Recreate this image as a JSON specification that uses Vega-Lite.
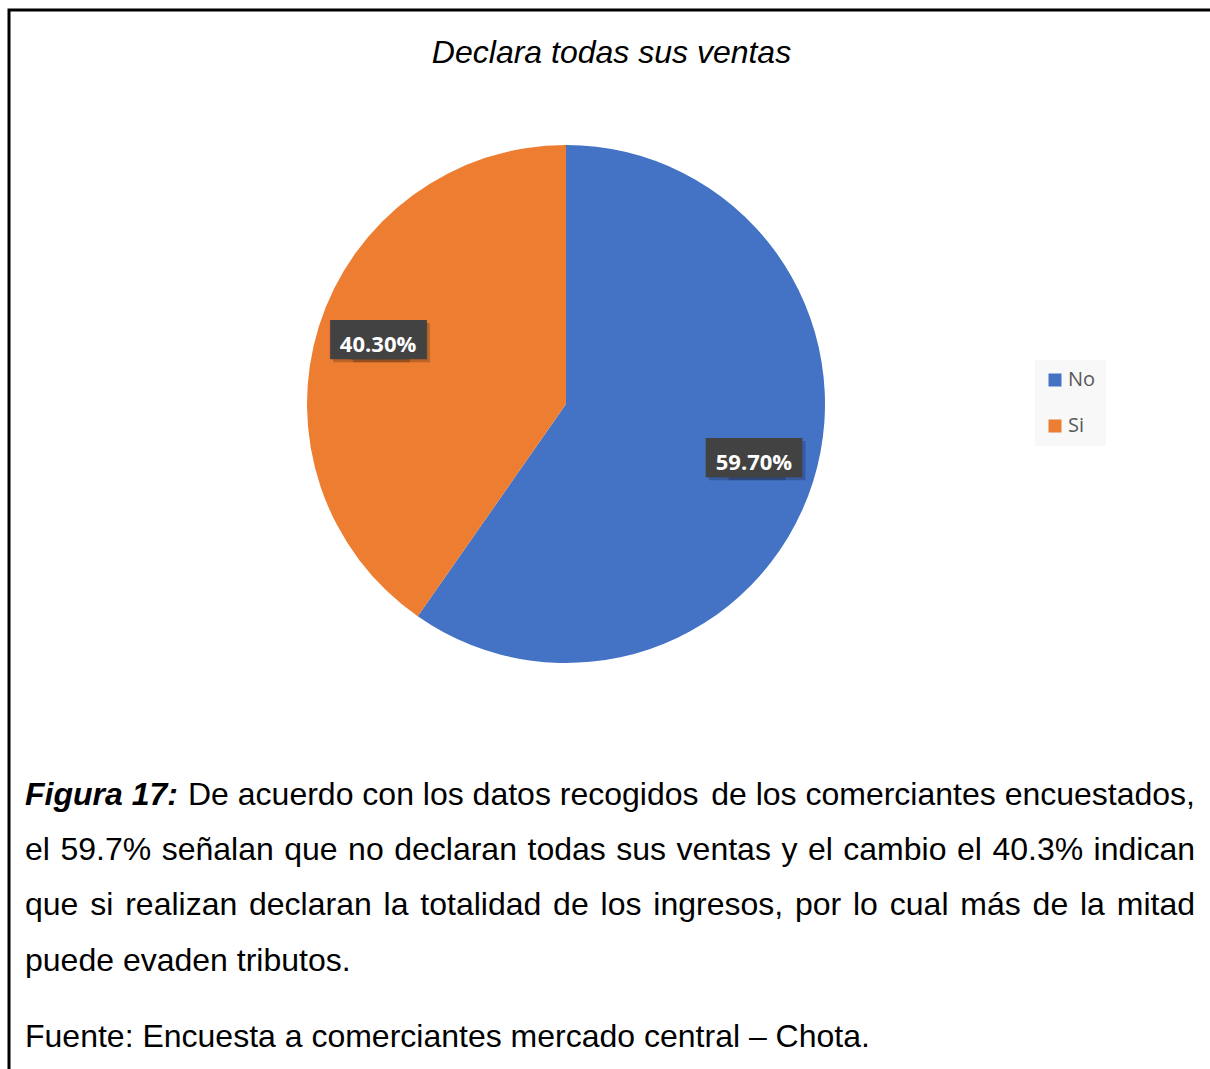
{
  "$schema": "https://vega.github.io/schema/vega-lite/v6.json",
  "width": 1205,
  "height": 1065,
  "autosize": {"type": "none"},
  "padding": {"left": 9, "top": 10, "right": 0, "bottom": 0},
  "background": "white",
  "config": {
    "view": {"stroke": "#000000", "strokeWidth": 3},
    "font": "Liberation Sans",
    "text": {"font": "Liberation Sans", "fontSize": 32, "align": "left", "baseline": "alphabetic", "color": "#000000"}
  },
  "title": {
    "text": "Declara todas sus ventas",
    "orient": "top",
    "anchor": "middle",
    "frame": "group",
    "offset": -60,
    "font": "Liberation Sans",
    "fontSize": 32,
    "fontStyle": "italic",
    "fontWeight": "normal",
    "color": "#000000"
  },
  "data": {"values": [{}]},
  "layer": [
    {
      "data": {"values": [
        {"respuesta": "No", "proporcion": 0.597},
        {"respuesta": "Si", "proporcion": 0.403}
      ]},
      "encoding": {
        "x": {"value": 557},
        "y": {"value": 394},
        "theta": {"field": "proporcion", "type": "quantitative", "stack": true},
        "order": {"field": "respuesta", "type": "nominal", "sort": "ascending"}
      },
      "layer": [
        {
          "mark": {"type": "arc", "outerRadius": 259},
          "encoding": {
            "color": {
              "field": "respuesta",
              "type": "nominal",
              "scale": {"domain": ["No", "Si"], "range": ["#4472C4", "#ED7D31"]},
              "legend": {
                "title": null,
                "orient": "none",
                "legendX": 1026,
                "legendY": 350,
                "fillColor": "#f8f8f8",
                "padding": 10,
                "symbolType": "square",
                "symbolSize": 169,
                "symbolStrokeWidth": 0,
                "labelFont": "Open Sans",
                "labelFontSize": 20,
                "labelColor": "#595959",
                "labelOffset": 3,
                "rowPadding": 26
              }
            }
          }
        },
        {
          "mark": {"type": "text", "radius": 197, "text": "███", "font": "DejaVu Sans", "fontSize": 33, "color": "#000000", "opacity": 0.2, "align": "right", "baseline": "middle", "dx": 51, "dy": -1},
          "encoding": {"detail": {"field": "respuesta"}}
        },
        {
          "mark": {"type": "text", "radius": 197, "text": "███", "font": "DejaVu Sans", "fontSize": 33, "color": "#000000", "opacity": 0.2, "align": "left", "baseline": "middle", "dx": -45, "dy": -1},
          "encoding": {"detail": {"field": "respuesta"}}
        },
        {
          "mark": {"type": "text", "radius": 197, "text": "███", "font": "DejaVu Sans", "fontSize": 33, "color": "#424242", "align": "right", "baseline": "middle", "dx": 48, "dy": -4},
          "encoding": {"detail": {"field": "respuesta"}}
        },
        {
          "mark": {"type": "text", "radius": 197, "text": "███", "font": "DejaVu Sans", "fontSize": 33, "color": "#424242", "align": "left", "baseline": "middle", "dx": -48, "dy": -4},
          "encoding": {"detail": {"field": "respuesta"}}
        },
        {
          "mark": {"type": "text", "radius": 197, "font": "Open Sans", "fontWeight": "bold", "fontSize": 22, "color": "#ffffff", "align": "center", "baseline": "middle"},
          "encoding": {
            "detail": {"field": "respuesta"},
            "text": {"field": "proporcion", "type": "quantitative", "format": ".2%"}
          }
        }
      ]
    },
    {"mark": {"type": "text", "text": "Figura 17:", "fontWeight": "bold", "fontStyle": "italic"}, "encoding": {"x": {"value": 16}, "y": {"value": 795}}},
    {"mark": {"type": "text", "text": "De acuerdo con los datos recogidos"}, "encoding": {"x": {"value": 179}, "y": {"value": 795}}},
    {"mark": {"type": "text", "text": "de los comerciantes encuestados,", "align": "right"}, "encoding": {"x": {"value": 1186}, "y": {"value": 795}}},

    {"mark": {"type": "text", "text": "el"}, "encoding": {"x": {"value": 16}, "y": {"value": 850}}},
    {"mark": {"type": "text", "text": "59.7%"}, "encoding": {"x": {"value": 51.4}, "y": {"value": 850}}},
    {"mark": {"type": "text", "text": "señalan"}, "encoding": {"x": {"value": 152.7}, "y": {"value": 850}}},
    {"mark": {"type": "text", "text": "que"}, "encoding": {"x": {"value": 275.2}, "y": {"value": 850}}},
    {"mark": {"type": "text", "text": "no"}, "encoding": {"x": {"value": 339.1}, "y": {"value": 850}}},
    {"mark": {"type": "text", "text": "declaran"}, "encoding": {"x": {"value": 385.2}, "y": {"value": 850}}},
    {"mark": {"type": "text", "text": "todas"}, "encoding": {"x": {"value": 518.5}, "y": {"value": 850}}},
    {"mark": {"type": "text", "text": "sus"}, "encoding": {"x": {"value": 607.3}, "y": {"value": 850}}},
    {"mark": {"type": "text", "text": "ventas"}, "encoding": {"x": {"value": 667.6}, "y": {"value": 850}}},
    {"mark": {"type": "text", "text": "y"}, "encoding": {"x": {"value": 772.4}, "y": {"value": 850}}},
    {"mark": {"type": "text", "text": "el"}, "encoding": {"x": {"value": 798.9}, "y": {"value": 850}}},
    {"mark": {"type": "text", "text": "cambio"}, "encoding": {"x": {"value": 834.3}, "y": {"value": 850}}},
    {"mark": {"type": "text", "text": "el"}, "encoding": {"x": {"value": 948.0}, "y": {"value": 850}}},
    {"mark": {"type": "text", "text": "40.3%"}, "encoding": {"x": {"value": 983.4}, "y": {"value": 850}}},
    {"mark": {"type": "text", "text": "indican"}, "encoding": {"x": {"value": 1084.6}, "y": {"value": 850}}},

    {"mark": {"type": "text", "text": "que"}, "encoding": {"x": {"value": 16}, "y": {"value": 905}}},
    {"mark": {"type": "text", "text": "si"}, "encoding": {"x": {"value": 81.2}, "y": {"value": 905}}},
    {"mark": {"type": "text", "text": "realizan"}, "encoding": {"x": {"value": 116.2}, "y": {"value": 905}}},
    {"mark": {"type": "text", "text": "declaran"}, "encoding": {"x": {"value": 240.0}, "y": {"value": 905}}},
    {"mark": {"type": "text", "text": "la"}, "encoding": {"x": {"value": 374.6}, "y": {"value": 905}}},
    {"mark": {"type": "text", "text": "totalidad"}, "encoding": {"x": {"value": 411.3}, "y": {"value": 905}}},
    {"mark": {"type": "text", "text": "de"}, "encoding": {"x": {"value": 544.1}, "y": {"value": 905}}},
    {"mark": {"type": "text", "text": "los"}, "encoding": {"x": {"value": 591.6}, "y": {"value": 905}}},
    {"mark": {"type": "text", "text": "ingresos,"}, "encoding": {"x": {"value": 644.3}, "y": {"value": 905}}},
    {"mark": {"type": "text", "text": "por"}, "encoding": {"x": {"value": 786.0}, "y": {"value": 905}}},
    {"mark": {"type": "text", "text": "lo"}, "encoding": {"x": {"value": 844.0}, "y": {"value": 905}}},
    {"mark": {"type": "text", "text": "cual"}, "encoding": {"x": {"value": 880.8}, "y": {"value": 905}}},
    {"mark": {"type": "text", "text": "más"}, "encoding": {"x": {"value": 951.3}, "y": {"value": 905}}},
    {"mark": {"type": "text", "text": "de"}, "encoding": {"x": {"value": 1023.6}, "y": {"value": 905}}},
    {"mark": {"type": "text", "text": "la"}, "encoding": {"x": {"value": 1071.0}, "y": {"value": 905}}},
    {"mark": {"type": "text", "text": "mitad"}, "encoding": {"x": {"value": 1107.8}, "y": {"value": 905}}},

    {"mark": {"type": "text", "text": "puede evaden tributos."}, "encoding": {"x": {"value": 16}, "y": {"value": 961}}},
    {"mark": {"type": "text", "text": "Fuente: Encuesta a comerciantes mercado central – Chota."}, "encoding": {"x": {"value": 16}, "y": {"value": 1037}}}
  ]
}
